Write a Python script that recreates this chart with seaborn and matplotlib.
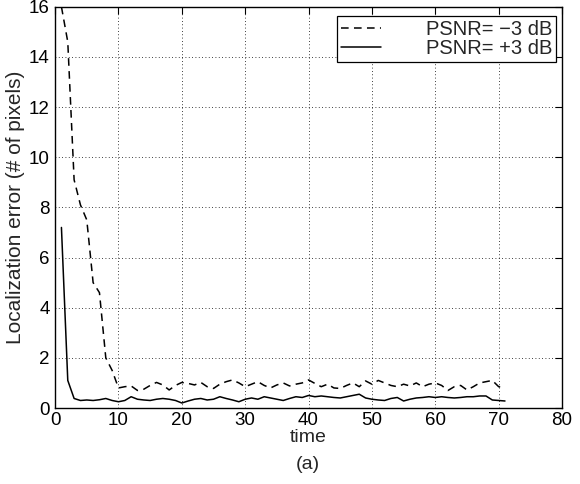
import numpy as np
import pandas as pd
import matplotlib
matplotlib.use("Agg")
import matplotlib.pyplot as plt
import seaborn as sns
from matplotlib.lines import Line2D

# ---- data ----
time = list(range(1, 72))
psnr_m3 = [16.0, 14.6, 9.1, 8.1, 7.5, 5.0, 4.6, 2.0, 1.5, 0.8,
           0.85, 0.88, 0.70, 0.75, 0.90, 1.02, 0.92, 0.72, 0.90, 1.02,
           0.98, 0.92, 1.02, 0.85, 0.78, 0.95, 1.05, 1.12, 1.00, 0.85,
           0.95, 1.05, 0.90, 0.80, 0.92, 1.00, 0.88, 0.95, 1.00, 1.12,
           0.98, 0.85, 0.95, 0.80, 0.78, 0.90, 1.00, 0.85, 1.08, 0.95,
           1.10, 1.00, 0.90, 0.85, 0.95, 0.88, 1.00, 0.85, 0.95, 1.00,
           0.90, 0.70, 0.85, 0.90, 0.72, 0.85, 1.00, 1.05, 1.10, 0.85, 0.80]
psnr_p3 = [7.2, 1.1, 0.38, 0.30, 0.32, 0.30, 0.33, 0.38, 0.30, 0.25,
           0.30, 0.45, 0.35, 0.32, 0.30, 0.35, 0.38, 0.35, 0.30, 0.20,
           0.28, 0.35, 0.38, 0.32, 0.35, 0.45, 0.38, 0.32, 0.25, 0.35,
           0.40, 0.35, 0.45, 0.40, 0.35, 0.30, 0.38, 0.45, 0.42, 0.50,
           0.45, 0.48, 0.45, 0.42, 0.40, 0.45, 0.50, 0.55, 0.40, 0.35,
           0.32, 0.30, 0.38, 0.42, 0.28, 0.35, 0.40, 0.42, 0.45, 0.42,
           0.45, 0.42, 0.40, 0.42, 0.45, 0.45, 0.48, 0.48, 0.32, 0.30, 0.28]
labels = ["PSNR= \u22123 dB", "PSNR= +3 dB"]
xticks = list(range(0, 81, 10))
yticks = list(range(0, 17, 2))

sns.set_theme(style="white")
plt.rcParams['font.family'] = ['Liberation Sans', 'DejaVu Sans']

df = pd.DataFrame({
    "time": time * 2,
    "err": psnr_m3 + psnr_p3,
    "series": [labels[0]] * len(time) + [labels[1]] * len(time),
})

fig = plt.figure(figsize=(5.8, 4.84), dpi=100)
ax = fig.add_axes([0.095, 0.157, 0.874, 0.829])

sns.lineplot(data=df, x="time", y="err", hue="series", style="series",
             palette={labels[0]: "black", labels[1]: "black"},
             dashes={labels[0]: (5, 3.5), labels[1]: ""},
             linewidth=1.1, ax=ax, legend=False)

ax.set_xlim(0, 80)
ax.set_ylim(0, 16)
ax.set_xticks(xticks)
ax.set_yticks(yticks)
ax.tick_params(direction="in", length=5, width=0.8, top=True, right=True,
               labelsize=13.5, colors="black")
ax.tick_params(axis="x", pad=3)
ax.tick_params(axis="y", pad=4)
ax.grid(True, linestyle=(0, (1, 3)), color="black", linewidth=0.6)
for s in ax.spines.values():
    s.set_color("black")
    s.set_linewidth(1.0)

ax.set_xlabel("time", fontsize=14, labelpad=0)
ax.set_ylabel("Localization error (# of pixels)", fontsize=15, labelpad=3)

handles = [Line2D([], [], color="black", lw=1.1, ls=(0, (5, 3.5))),
           Line2D([], [], color="black", lw=1.1, ls="-")]
leg = ax.legend(handles, labels, loc="upper right", fontsize=14.5,
                frameon=True, fancybox=False, edgecolor="black",
                framealpha=1, handlelength=2.0, handletextpad=2.2,
                borderpad=0.2, labelspacing=0.0, borderaxespad=0.0,
                bbox_to_anchor=(0.988, 0.978))
leg.get_frame().set_linewidth(0.9)

fig.text(0.53, 0.040, "(a)", ha="center", va="center", fontsize=14)

fig.savefig("out.png", dpi=100)
